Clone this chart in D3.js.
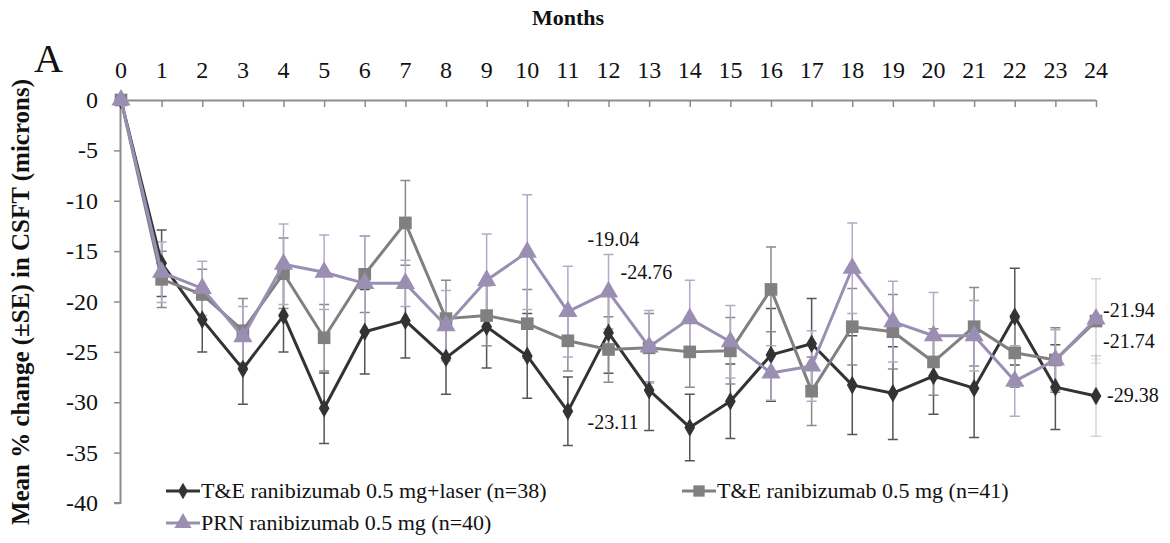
<!DOCTYPE html>
<html><head><meta charset="utf-8">
<script src="https://cdn.jsdelivr.net/npm/d3@7/dist/d3.min.js"></script>
<style>
html,body{margin:0;padding:0;background:#fff;}
</style></head>
<body>
<svg id="c" width="1170" height="543" font-family="'Liberation Serif', 'DejaVu Serif', serif"></svg>
<script>
// ---- data ----
const months = [0,1,2,3,4,5,6,7,8,9,10,11,12,13,14,15,16,17,18,19,20,21,22,23,24];
const yTicks = [0,-5,-10,-15,-20,-25,-30,-35,-40];
const seriesNames = ["T&E ranibizumab 0.5 mg+laser (n=38)", "T&E ranibizumab 0.5 mg (n=41)", "PRN ranibizumab 0.5 mg (n=40)"];
const laserMean = [0,-16.2,-21.8,-26.7,-21.4,-30.6,-23.0,-21.9,-25.6,-22.5,-25.4,-30.9,-23.11,-28.8,-32.5,-29.9,-25.3,-24.2,-28.3,-29.1,-27.4,-28.6,-21.5,-28.5,-29.38];
const laserSE   = [0,3.3,3.2,3.5,3.6,3.5,4.2,3.7,3.6,4.1,4.2,3.4,4.0,4.0,3.3,3.7,4.6,4.5,4.9,4.6,3.8,4.9,4.8,4.2,4.0];
const teMean    = [0,-17.8,-19.3,-22.9,-17.2,-23.6,-17.3,-12.2,-21.7,-21.4,-22.2,-23.9,-24.76,-24.6,-25.0,-24.9,-18.8,-28.9,-22.5,-23.0,-26.0,-22.5,-25.1,-25.8,-21.94];
const teSE      = [0,2.8,2.5,3.2,3.5,3.3,3.8,4.2,3.8,3.0,3.4,3.0,3.25,3.4,3.5,3.3,4.2,3.4,3.8,3.7,3.3,3.9,3.4,3.2,4.2];
const prnMean   = [0,-17.1,-18.7,-23.5,-16.3,-17.1,-18.2,-18.2,-22.4,-17.9,-15.1,-21.0,-19.04,-24.5,-21.7,-24.0,-27.1,-26.4,-16.7,-22.0,-23.4,-23.4,-27.9,-25.8,-21.74];
const prnSE     = [0,3.0,2.7,3.0,4.0,3.7,4.7,2.3,3.5,4.6,5.7,4.5,3.7,3.6,3.8,3.6,2.7,3.5,4.5,4.0,4.3,3.5,3.5,3.0,4.0];
// value labels: [series index, month, text]
const valueLabels = [[2,12,"-19.04"],[1,12,"-24.76"],[0,12,"-23.11"],[1,24,"-21.94"],[2,24,"-21.74"],[0,24,"-29.38"]];

// ---- layout / style ----
const FONT = "'Liberation Serif', 'DejaVu Serif', serif";
const labelOffsets = [[-21,-46],[12,-70],[-21,96],[7,-4],[7,29],[11,6]];
const styles = [
  {color:"#333333", err:"#555555", sym:d3.symbolDiamond, size:100, legX:166, legY:491},
  {color:"#808080", err:"#8a8a8a", sym:d3.symbolSquare, size:160, legX:682, legY:491},
  {color:"#9a8fb3", err:"#b3abc6", sym:d3.symbolTriangle, size:160, legX:166, legY:523}
];
const svg = d3.select("#c");
const x = d3.scaleLinear().domain([0,24]).range([121,1096]);
const y = d3.scaleLinear().domain([0,-40]).range([100,503]);
const axisColor = "#8c8c8c";

const series = [
  {mean:laserMean, se:laserSE},
  {mean:teMean, se:teSE},
  {mean:prnMean, se:prnSE}
];

function txt(sel){ return sel.attr("font-family",FONT).style("font-family",FONT); }

// axes
const xAxis = svg.append("g").attr("transform","translate(0,"+y(0)+")")
  .call(d3.axisBottom(x).tickValues(months.slice(1)).tickSize(7).tickFormat(""));
const yAxis = svg.append("g").attr("transform","translate(120,0)")
  .call(d3.axisLeft(y).tickValues(yTicks).tickSize(6).tickFormat(""));
[xAxis,yAxis].forEach(g=>{
  g.select(".domain").attr("stroke",axisColor).attr("stroke-width",2);
  g.selectAll(".tick line").attr("stroke",axisColor).attr("stroke-width",1.5);
});
xAxis.select(".domain").attr("d","M120,0.5H"+x(24));
yAxis.select(".domain").attr("d","M0.5,"+y(0)+"V"+y(-40)+"H-6");

// x tick labels (top)
txt(svg.append("g").selectAll("text").data(months).join("text"))
  .attr("x",d=>x(d)).attr("y",78).attr("text-anchor","middle")
  .attr("font-size",24).attr("fill","#111").text(d=>d);
// y tick labels
txt(svg.append("g").selectAll("text").data(yTicks).join("text"))
  .attr("x",98).attr("y",d=>y(d)+8).attr("text-anchor","end")
  .attr("font-size",24).attr("fill","#111").text(d=>d);

// titles
txt(svg.append("text")).attr("x",568).attr("y",25).attr("text-anchor","middle")
  .attr("font-size",22).attr("font-weight","bold").attr("fill","#111").text("Months");
txt(svg.append("text")).attr("x",34).attr("y",72).attr("font-size",40).attr("fill","#111").text("A");
const yt = txt(svg.append("text")).attr("transform","translate(29,302) rotate(-90)")
  .attr("text-anchor","middle").attr("font-size",20).attr("font-weight","bold").attr("fill","#111")
  .text("Mean % change (\u00B1SE) in CSFT (microns)");
const len = yt.node().getComputedTextLength();
yt.attr("font-size", Math.min(25, 20*462/len));

// error bars
series.forEach((s,i)=>{
  const g = svg.append("g");
  months.forEach((m,j)=>{
    if (s.se[j]===0) return;
    const op = (m===24)?0.25:1;
    const y1 = y(s.mean[j]+s.se[j]), y2 = y(s.mean[j]-s.se[j]), cx = x(m);
    g.append("path").attr("d",`M${cx},${y1}V${y2}M${cx-5},${y1}H${cx+5}M${cx-5},${y2}H${cx+5}`)
      .attr("stroke",styles[i].err).attr("stroke-width",1.5).attr("fill","none").attr("opacity",op);
  });
});

// lines and markers
const line = d3.line().x((d,j)=>x(months[j])).y(d=>y(d));
series.forEach((s,i)=>{
  svg.append("path").datum(s.mean).attr("d",line).attr("fill","none")
    .attr("stroke",styles[i].color).attr("stroke-width",3).attr("stroke-linejoin","round");
  svg.append("g").selectAll("path").data(s.mean).join("path")
    .attr("transform",(d,j)=>`translate(${x(months[j])},${y(d)})`)
    .attr("d",d3.symbol().type(styles[i].sym).size(styles[i].size))
    .attr("fill",styles[i].color);
});

// value labels
valueLabels.forEach((l,k)=>{
  const [si,m,t] = l;
  const idx = months.indexOf(m);
  txt(svg.append("text")).attr("x",x(m)+labelOffsets[k][0]).attr("y",y(series[si].mean[idx])+labelOffsets[k][1])
    .attr("font-size",20).attr("fill","#111").text(t);
});

// legend
styles.forEach((st,i)=>{
  const g = svg.append("g").attr("transform",`translate(${st.legX},${st.legY})`);
  g.append("line").attr("x1",0).attr("x2",34).attr("stroke",st.color).attr("stroke-width",3);
  g.append("path").attr("transform","translate(17,0)")
    .attr("d",d3.symbol().type(st.sym).size(st.size*0.8)).attr("fill",st.color);
  txt(g.append("text")).attr("x",35).attr("y",7).attr("font-size",22).attr("fill","#111").text(seriesNames[i]);
});
</script>
</body></html>
